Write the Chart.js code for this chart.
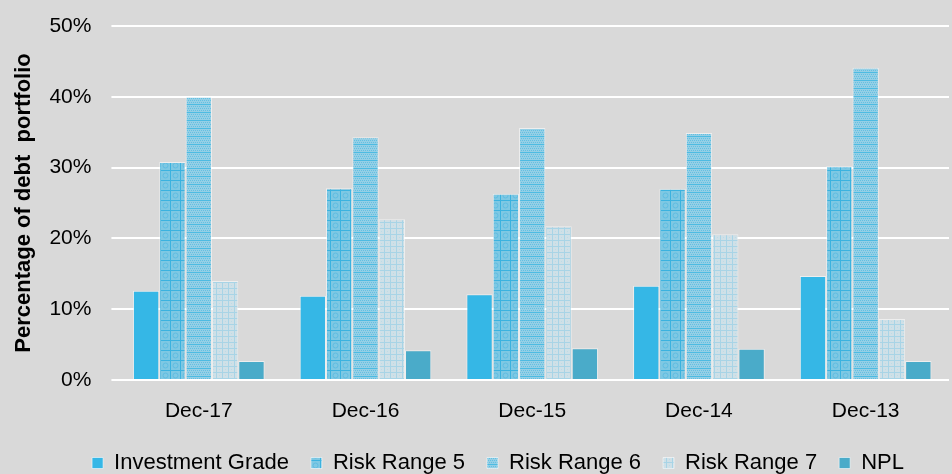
<!DOCTYPE html>
<html>
<head>
    <title>Debt portfolio by risk range</title>
    <script src="https://cdn.jsdelivr.net/npm/chart.js"></script>
    <style>
        body { margin: 0; background: #d9d9d9; }
        #wrap { width: 952px; height: 474px; }
    </style>
</head>
<body>
    <div id="wrap"><canvas id="grafico"></canvas></div>
    <script>
        const categorias = ['Dec-17', 'Dec-16', 'Dec-15', 'Dec-14', 'Dec-13'];
        const investmentGrade = [12.6, 11.9, 12.1, 13.3, 14.7];
        const riskRange5 = [30.8, 27.1, 26.3, 27.0, 30.2];
        const riskRange6 = [40.0, 34.3, 35.6, 34.9, 44.1];
        const riskRange7 = [14.0, 22.7, 21.7, 20.6, 8.6];
        const npl = [2.7, 4.2, 4.5, 4.4, 2.7];
        const ticksY = [0, 10, 20, 30, 40, 50];

        // small tiles for the hatched fills
        function padrao(tam, base, desenha) {
            const c = document.createElement('canvas');
            c.width = tam; c.height = tam;
            const g = c.getContext('2d');
            g.fillStyle = base;
            g.fillRect(0, 0, tam, tam);
            desenha(g);
            return document.getElementById('grafico').getContext('2d').createPattern(c, 'repeat');
        }

        const p5 = padrao(10, '#7ec8e3', g => {
            g.fillStyle = '#3bb2df';
            g.fillRect(0, 0, 10, 1);
            g.fillRect(0, 0, 1, 10);
            g.strokeStyle = '#5fbde2';
            g.beginPath(); g.arc(5.5, 5.5, 2.5, 0, Math.PI * 2); g.stroke();
        });
        const p6 = padrao(8, '#95cfe5', g => {
            g.fillStyle = '#62c0e3';
            for (let i = 0; i < 8; i += 2) for (let j = 0; j < 8; j += 2) g.fillRect(i + (j % 4 ? 1 : 0), j, 1, 1);
            g.fillStyle = '#4dbbe2';
            g.fillRect(0, 0, 8, 1);
        });
        const p7 = padrao(6, '#cfe0e7', g => {
            g.fillStyle = '#a8d4e6';
            g.fillRect(0, 0, 6, 1);
            g.fillRect(0, 0, 1, 6);
            g.fillStyle = '#bcdbe7';
            g.fillRect(3, 3, 1, 1);
        });

        const fonte = "'Liberation Sans', Arial, sans-serif";
        const borda = 'rgba(255,255,255,0.55)';

        // the legend row in the original sits a bit right of centre
        const legendaDeslocada = {
            id: 'legendaDeslocada',
            afterLayout(chart) {
                const leg = chart.legend;
                const pad = leg.options.labels.padding;
                const largura = leg.lineWidths[0] - pad;
                const inicio = 498 - largura / 2;
                leg.lineWidths[0] = leg.left + pad + leg.right - 2 * inicio;
            }
        };

        new Chart(document.getElementById('grafico'), {
            type: 'bar',
            data: {
                labels: categorias,
                datasets: [
                    { label: 'Investment Grade', data: investmentGrade, backgroundColor: '#35b7e6' },
                    { label: 'Risk Range 5', data: riskRange5, backgroundColor: p5 },
                    { label: 'Risk Range 6', data: riskRange6, backgroundColor: p6 },
                    { label: 'Risk Range 7', data: riskRange7, backgroundColor: p7 },
                    { label: 'NPL', data: npl, backgroundColor: '#4aabc9' }
                ].map(d => Object.assign(d, { borderColor: borda, borderWidth: 1, categoryPercentage: 0.79, barPercentage: 1 }))
            },
            plugins: [legendaDeslocada],
            options: {
                responsive: true,
                maintainAspectRatio: false,
                animation: false,
                // legend box is ~10px taller than the room under it, let it hang over the edge
                layout: { padding: { top: 26, right: 3, bottom: -10, left: 7 } },
                plugins: {
                    legend: {
                        position: 'bottom',
                        labels: {
                            color: '#000',
                            font: { family: fonte, size: 22 },
                            boxWidth: 11, boxHeight: 11,
                            padding: 22
                        }
                    },
                    tooltip: { enabled: false }
                },
                scales: {
                    x: {
                        grid: { display: false },
                        border: { display: false },
                        ticks: { color: '#000', font: { family: fonte, size: 21 }, padding: 11 },
                        afterFit: s => { s.height = 50; }
                    },
                    y: {
                        min: 0, max: 50,
                        afterBuildTicks: s => { s.ticks = ticksY.map(v => ({ value: v })); },
                        afterFit: s => { s.paddingTop = 0; },
                        grid: { color: '#ffffff', lineWidth: 2, tickLength: 4, tickColor: '#ffffff' },
                        border: { display: false },
                        ticks: { color: '#000', font: { family: fonte, size: 21 }, padding: 20, callback: v => v + '%' },
                        title: {
                            display: true,
                            text: 'Percentage of debt  portfolio',
                            color: '#000',
                            font: { family: fonte, size: 22, weight: 'bold' },
                            padding: { top: 4, bottom: -8 }
                        }
                    }
                }
            }
        });
    </script>
</body>
</html>
